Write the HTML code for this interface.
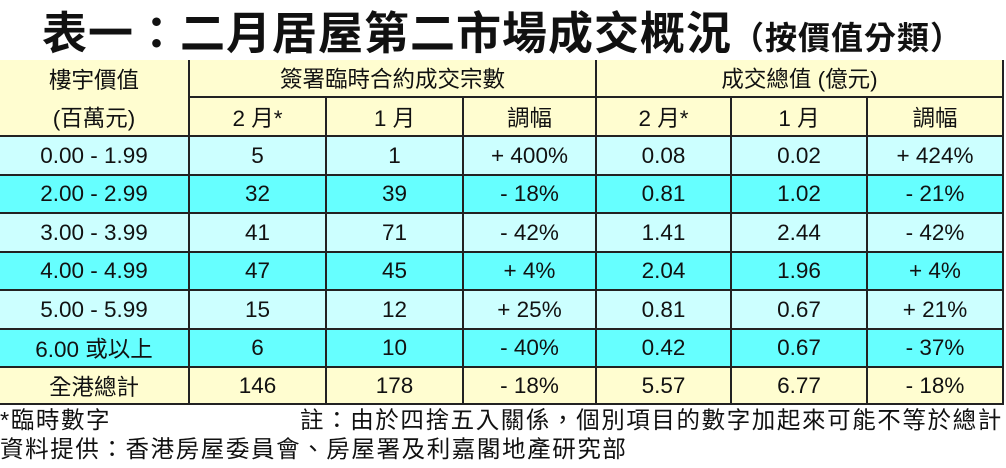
<!DOCTYPE html>
<html><head><meta charset="utf-8"><style>
body{margin:0;width:1006px;height:468px;background:#fff;position:relative;overflow:hidden;font-family:"Liberation Sans","Noto Sans CJK TC",sans-serif;color:#111}
#t{position:absolute;left:42px;top:1px;font-size:45px;font-weight:bold;white-space:nowrap;letter-spacing:1px;line-height:58px;font-family:"Noto Sans CJK TC",sans-serif}
#t span{font-size:32px}
.c{position:absolute;box-sizing:border-box;border-right:2px solid #222;border-bottom:2px solid #222;display:flex;align-items:center;justify-content:center;font-size:22.5px}
.f{position:absolute;font-size:23.5px;white-space:nowrap;line-height:28px;letter-spacing:1.6px}
</style></head><body>
<div id="t">表一：二月居屋第二市場成交概況<span>（按價值分類）</span></div>
<div style="position:absolute;left:0;top:60px;width:1004px;height:345px;border-left:2px solid #222;border-top:2px solid #222;box-sizing:border-box"></div>
<div id="g"></div>
<div class="f" style="left:0;top:406px">*臨時數字</div>
<div class="f" style="left:300px;top:406px">註：由於四捨五入關係，個別項目的數字加起來可能不等於總計</div>
<div class="f" style="left:0;top:435px">資料提供：香港房屋委員會、房屋署及利嘉閣地產研究部</div>
<script>
var X=[0,190,327,464,597,732,868,1004];
var Y=[60,98,137,176,214,253,291,330,368,405];
var g=document.getElementById('g'),h='';
function cell(x0,x1,y0,y1,bg,txt){h+='<div class="c" style="left:'+X[x0]+'px;top:'+Y[y0]+'px;width:'+(X[x1]-X[x0])+'px;height:'+(Y[y1]-Y[y0])+'px;background:'+bg+'">'+txt+'</div>';}
var cr='#fffdd0';
cell(0,1,0,1,cr,'樓宇價值');cell(0,1,1,2,cr,'(百萬元)');
cell(1,4,0,1,cr,'簽署臨時合約成交宗數');cell(4,7,0,1,cr,'成交總值 (億元)');
var hd=['2 月*','1 月','調幅','2 月*','1 月','調幅'];
for(var i=0;i<6;i++)cell(i+1,i+2,1,2,cr,hd[i]);
var R=[['0.00 - 1.99','5','1','+ 400%','0.08','0.02','+ 424%'],
['2.00 - 2.99','32','39','- 18%','0.81','1.02','- 21%'],
['3.00 - 3.99','41','71','- 42%','1.41','2.44','- 42%'],
['4.00 - 4.99','47','45','+ 4%','2.04','1.96','+ 4%'],
['5.00 - 5.99','15','12','+ 25%','0.81','0.67','+ 21%'],
['6.00 或以上','6','10','- 40%','0.42','0.67','- 37%'],
['全港總計','146','178','- 18%','5.57','6.77','- 18%']];
for(var r=0;r<7;r++){var bg=r==6?cr:(r%2==0?'#ccffff':'#66ffff');for(var c=0;c<7;c++)cell(c,c+1,r+2,r+3,bg,R[r][c]);}
g.innerHTML=h;
g.children[0].style.borderBottom='none';
</script>
</body></html>
